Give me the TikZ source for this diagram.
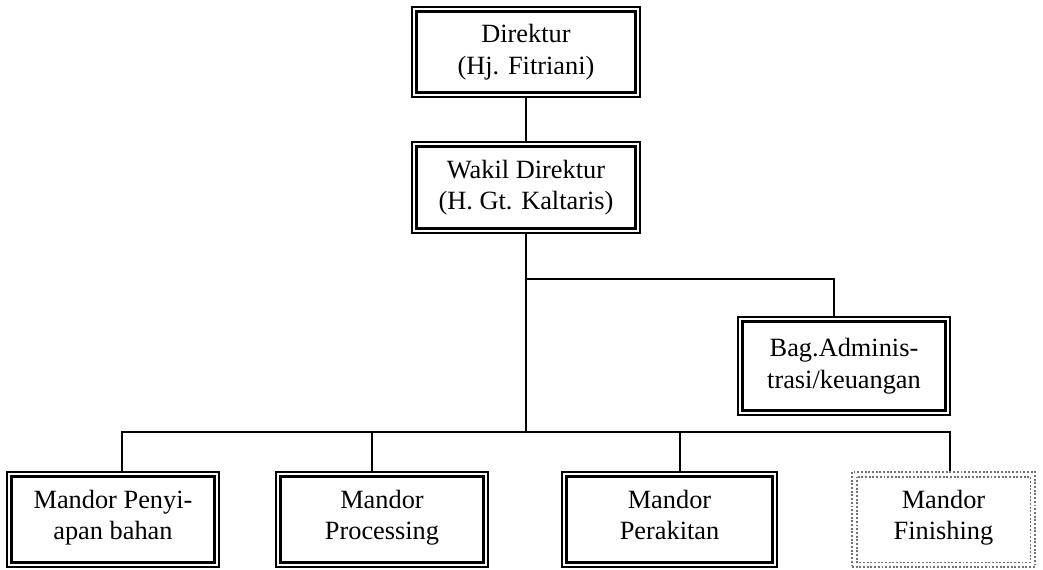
\documentclass[tikz,border=0pt]{standalone}
\usepackage{fontspec}
\setmainfont{Liberation Serif}

\tikzset{
  jabatan/.style={draw, line width=1.1pt, inner sep=0pt, align=center,
    minimum width=#1, font=\fontsize{15}{18}\selectfont},
  jabatankosong/.style={jabatan=#1, draw=black!55, densely dotted, line width=1.1pt},
  garis/.style={line width=1.1pt},
}

\begin{document}
\begin{tikzpicture}[x=0.02cm,y=-0.02cm]
\useasboundingbox (0,0) rectangle (1043,569);

    \node[jabatan=4.56cm, minimum height=1.8cm] (direktur) at (526,52) {Direktur\\(Hj. Fitriani)};
    \node[jabatan=4.56cm, minimum height=1.82cm] (wakil) at (526,187.5) {Wakil Direktur\\(H. Gt. Kaltaris)};
    \node[jabatan=4.24cm, minimum height=1.96cm] (admin) at (844,366) {Bag.Adminis-\\trasi/keuangan};

    \node[jabatan=4.24cm, minimum height=1.9cm] (penyiapan) at (113,519.5) {Mandor Penyi-\\apan bahan\strut};
    \node[jabatan=4.24cm, minimum height=1.9cm] (processing) at (382,519.5) {Mandor\\Processing\strut};
    \node[jabatan=4.3cm, minimum height=1.9cm] (perakitan) at (669.5,519.5) {Mandor\\Perakitan\strut};
    \node[jabatankosong=3.66cm, minimum height=1.9cm] (finishing) at (943.5,519.5) {Mandor\\Finishing\strut};

    % bingkai dalam
    \foreach \n in {direktur,wakil,admin,penyiapan,processing,perakitan}
      \draw[line width=1.7pt] ([shift={(5.5,5.5)}]\n.north west) rectangle ([shift={(-5.5,-5.5)}]\n.south east);
    \draw[black!55, densely dotted, line width=1.1pt] ([shift={(5.5,5.5)}]finishing.north west) rectangle ([shift={(-5.5,-5.5)}]finishing.south east);

    \coordinate (cabang) at (526,279);
    \coordinate (bus) at (526,432);

    \draw[garis] (direktur) -- (wakil);
    \draw[garis] (wakil) -- (bus);
    \draw[garis] (cabang) -| ([xshift=-0.2cm]admin.north);
    \foreach \n/\dx in {penyiapan/0.18, processing/-0.2, perakitan/0.21, finishing/0.13}
      \draw[garis] (bus) -| ([xshift=\dx cm]\n.north);
\end{tikzpicture}
\end{document}
